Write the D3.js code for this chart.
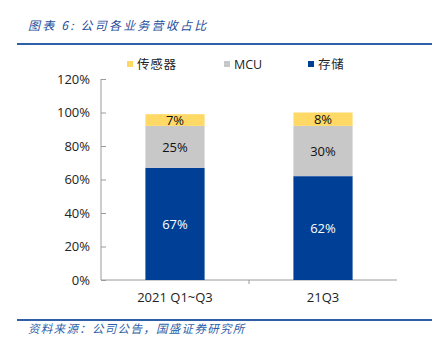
<!DOCTYPE html>
<html><head><meta charset="utf-8">
<script src="https://cdn.jsdelivr.net/npm/d3@7"></script>
<style>body{margin:0;background:#fff}svg{display:block}</style>
</head><body>
<script>
const categories = ["2021 Q1~Q3", "21Q3"];
const seriesNames = ["存储", "MCU", "传感器"];
const storage = [67, 62];
const mcu = [25, 30];
const sensor = [7, 8];
const yTicks = [0, 20, 40, 60, 80, 100, 120];
const colors = {"存储": "#003f96", "MCU": "#c8c8c8", "传感器": "#ffd966"};
const labelColors = {"存储": "#fff", "MCU": "#111", "传感器": "#111"};
const legendOrder = ["传感器", "MCU", "存储"];

const W = 440, H = 347;
const svg = d3.select("body").append("svg").attr("width", W).attr("height", H);
const cjk = "'Noto Sans CJK SC', sans-serif";
const latin = "'Open Sans', 'Noto Sans', sans-serif";

// title
svg.append("text").attr("x", 28).attr("y", 30).text("图表 6:  公司各业务营收占比")
  .attr("font-family", cjk).attr("font-size", 12).attr("font-style", "italic")
  .attr("letter-spacing", 2.2).attr("fill", "#1f4e9a");
svg.append("line").attr("x1", 17).attr("x2", 432).attr("y1", 44).attr("y2", 44)
  .attr("stroke", "#2f5fa8").attr("stroke-width", 2);

const x = d3.scaleBand().domain(categories).range([101, 397]).paddingInner(0.6).paddingOuter(0.3);
const y = d3.scaleLinear().domain([0, 120]).range([280, 79]);

// y axis
const yAxis = svg.append("g").attr("transform", "translate(101,0)")
  .call(d3.axisRight(y).tickValues(yTicks).tickSize(5).tickFormat(""));
yAxis.selectAll("line,path").attr("stroke", "#9a9a9a");
yAxis.select(".domain").attr("d", `M0,${y(120)}V${y(0)}`);
svg.append("g").selectAll("text").data(yTicks).join("text")
  .attr("x", 90).attr("y", d => y(d)).attr("dy", "0.35em").attr("text-anchor", "end")
  .attr("font-family", latin).attr("font-size", 13).attr("fill", "#222").text(d => d + "%");

// x axis
svg.append("line").attr("x1", 101).attr("x2", 397).attr("y1", 280).attr("y2", 280).attr("stroke", "#9a9a9a");
svg.append("line").attr("x1", 249).attr("x2", 249).attr("y1", 280).attr("y2", 284).attr("stroke", "#9a9a9a");
svg.append("g").selectAll("text").data(categories).join("text")
  .attr("x", d => x(d) + x.bandwidth() / 2).attr("y", 302).attr("text-anchor", "middle")
  .attr("font-family", latin).attr("font-size", 13).attr("fill", "#222").text(d => d);

// stacked bars
const table = categories.map((c, i) => ({cat: c, "存储": storage[i], "MCU": mcu[i], "传感器": sensor[i]}));
const stack = d3.stack().keys(seriesNames)(table);
const g = svg.append("g");
stack.forEach(layer => {
  const key = layer.key;
  g.selectAll(null).data(layer).join("rect")
    .attr("x", d => x(d.data.cat)).attr("width", x.bandwidth())
    .attr("y", d => y(d[1])).attr("height", d => y(d[0]) - y(d[1]))
    .attr("fill", colors[key]);
  g.selectAll(null).data(layer).join("text")
    .attr("x", d => x(d.data.cat) + x.bandwidth() / 2)
    .attr("y", d => (y(d[0]) + y(d[1])) / 2).attr("dy", "0.36em")
    .attr("text-anchor", "middle").attr("font-family", latin).attr("font-size", 13)
    .attr("fill", labelColors[key]).text(d => (d[1] - d[0]) + "%");
});

// legend
const legX = [127, 224, 308];
const lg = svg.append("g");
legendOrder.forEach((k, i) => {
  lg.append("rect").attr("x", legX[i]).attr("y", 61).attr("width", 6).attr("height", 6).attr("fill", colors[k]);
  lg.append("text").attr("x", legX[i] + 10).attr("y", 64).attr("dy", "0.36em")
    .attr("font-family", k === "MCU" ? latin : cjk).attr("font-size", 12.5)
    .attr("letter-spacing", k === "MCU" ? 0 : 0.8).attr("fill", "#222").text(k);
});

// footer
svg.append("line").attr("x1", 17).attr("x2", 432).attr("y1", 320).attr("y2", 320)
  .attr("stroke", "#2f5fa8").attr("stroke-width", 2);
svg.append("text").attr("x", 28).attr("y", 333).text("资料来源：公司公告，国盛证券研究所")
  .attr("font-family", cjk).attr("font-size", 11.5).attr("font-style", "italic")
  .attr("letter-spacing", 1.3).attr("fill", "#2f5fa8");
</script>
</body></html>
